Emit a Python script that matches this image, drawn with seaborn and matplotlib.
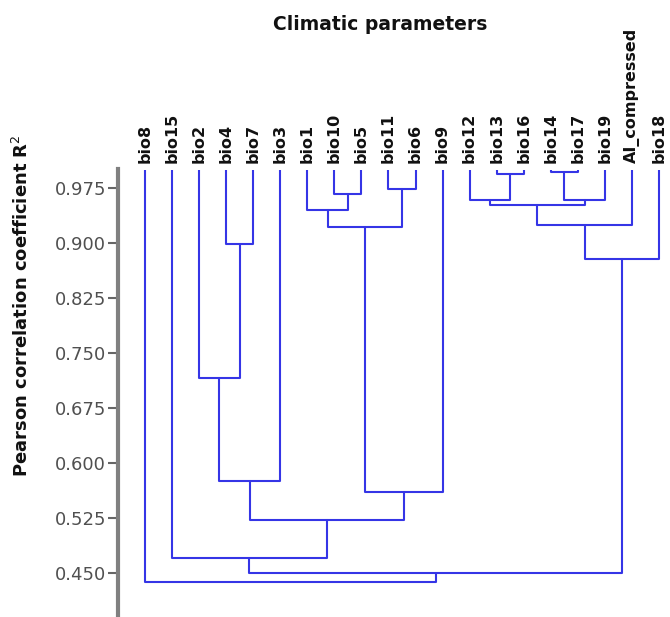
import matplotlib
matplotlib.use("Agg")
import matplotlib.pyplot as plt
import seaborn as sns
import pandas as pd

# ---- data ----
leaves = ["bio8", "bio15", "bio2", "bio4", "bio7", "bio3", "bio1", "bio10", "bio5",
          "bio11", "bio6", "bio9", "bio12", "bio13", "bio16", "bio14", "bio17",
          "bio19", "AI_compressed", "bio18"]
merge_left = ["bio4", "bio2", "n1", "bio10", "bio1", "bio11", "n4", "n6", "n2", "bio15",
              "bio13", "bio12", "bio14", "n12", "n11", "n14", "n15", "n9", "bio8"]
merge_right = ["bio7", "n0", "bio3", "bio5", "n3", "bio6", "n5", "bio9", "n7", "n8",
               "bio16", "n10", "bio17", "bio19", "n13", "AI_compressed", "bio18", "n16", "n17"]
merge_height = [0.899, 0.716, 0.576, 0.967, 0.946, 0.974, 0.923, 0.561, 0.522, 0.471,
                0.995, 0.959, 0.997, 0.959, 0.952, 0.925, 0.879, 0.450, 0.438]
yticks = [0.450, 0.525, 0.600, 0.675, 0.750, 0.825, 0.900, 0.975]
leaf_top = 1.0

# ---- build dendrogram segments ----
pos = {name: (i, leaf_top) for i, name in enumerate(leaves)}
rows = []
for k, (a, b, h) in enumerate(zip(merge_left, merge_right, merge_height)):
    xa, ya = pos[a]
    xb, yb = pos[b]
    for px, py in [(xa, ya), (xa, h), (xb, h), (xb, yb)]:
        rows.append({"x": px, "y": py, "seg": k})
    pos[f"n{k}"] = ((xa + xb) / 2, h)
df = pd.DataFrame(rows)

sns.set_style("white")
plt.rcParams["font.family"] = ["DejaVu Sans"]

fig = plt.figure(figsize=(6.70, 6.17), dpi=100)
ax = fig.add_axes([118 / 670, 0.0, 1 - 118 / 670, 1 - 169.5 / 617])

sns.lineplot(data=df, x="x", y="y", units="seg", estimator=None, sort=False,
             color="#3535e6", lw=1.5, ax=ax, legend=False)

ax.set_xlim(-1.0, 19.41)
ax.set_ylim(0.3901, 1.0008)

ax.xaxis.tick_top()
ax.set_xticks(range(len(leaves)))
ax.set_xticklabels(leaves, rotation=90, fontsize=11.5, fontweight="bold",
                   color="#111111")
ax.tick_params(axis="x", length=0, pad=5)
ax.set_yticks(yticks)
ax.set_yticklabels([f"{v:.3f}" for v in yticks], fontsize=13, color="#505050")
ax.tick_params(axis="y", length=7, width=1.5, color="#666666", pad=1.5, left=True)
ax.set_xlabel("")
ax.set_ylabel("")

for s in ["top", "right", "bottom"]:
    ax.spines[s].set_visible(False)
ax.spines["left"].set_color("#808080")
ax.spines["left"].set_linewidth(3)

fig.text(380 / 670, 1 - 24 / 617, "Climatic parameters", ha="center", va="center",
         fontsize=13.5, fontweight="bold", color="#111111")
fig.text(22 / 670, 1 - 306 / 617, "Pearson correlation coefficient R$^2$", ha="center",
         va="center", rotation=90, fontsize=13, fontweight="bold", color="#111111")

fig.savefig("out.png", dpi=100)
